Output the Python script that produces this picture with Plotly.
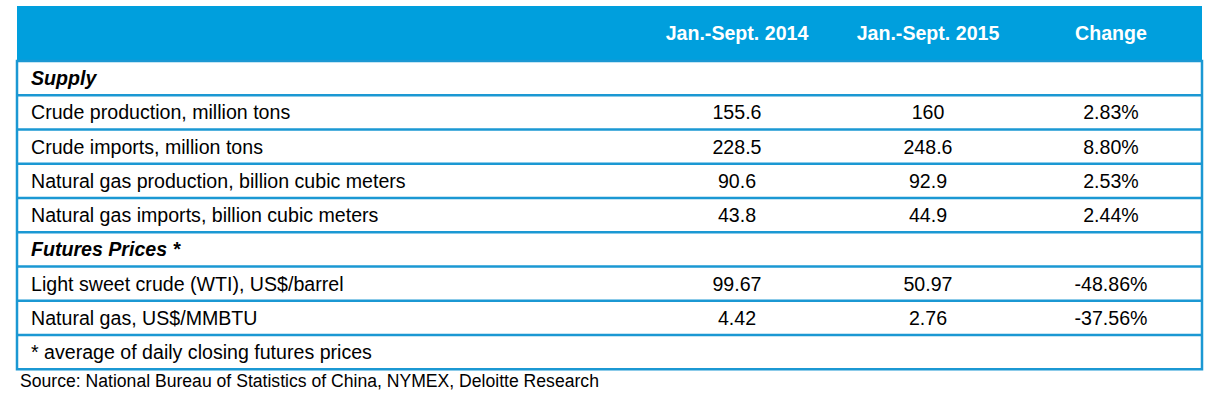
import plotly.graph_objects as go

# table content
columns = ["Jan.-Sept. 2014", "Jan.-Sept. 2015", "Change"]
row_labels = [
    "Supply",
    "Crude production, million tons",
    "Crude imports, million tons",
    "Natural gas production, billion cubic meters",
    "Natural gas imports, billion cubic meters",
    "Futures Prices *",
    "Light sweet crude (WTI), US$/barrel",
    "Natural gas, US$/MMBTU",
    "* average of daily closing futures prices",
]
row_kinds = ["section", "data", "data", "data", "data", "section", "data", "data", "note"]
values_2014 = ["", "155.6", "228.5", "90.6", "43.8", "", "99.67", "4.42", ""]
values_2015 = ["", "160", "248.6", "92.9", "44.9", "", "50.97", "2.76", ""]
changes = ["", "2.83%", "8.80%", "2.53%", "2.44%", "", "-48.86%", "-37.56%", ""]
source = "Source: National Bureau of Statistics of China, NYMEX, Deloitte Research"

W, H = 1229, 414
left, right = 17, 1202
top, header_bottom = 6, 61
row_h = 34.25
label_x = 31
col_x = [737, 928, 1111]
text_shift = 2  # scatter text sits a little high

header_blue = "#009fdd"
line_blue = "#1b98d3"
font = "Liberation Sans, Arial, sans-serif"
size = 19.6

row_y = [header_bottom + row_h * (i + 0.5) + text_shift for i in range(len(row_labels))]
bottom = header_bottom + row_h * len(row_labels)

labels = [f"<b><i>{t}</i></b>" if k == "section" else t for t, k in zip(row_labels, row_kinds)]

fig = go.Figure()
fig.add_trace(go.Scatter(
    x=[label_x] * len(labels), y=row_y, mode="text", text=labels,
    textposition="middle right", textfont={"family": font, "size": size, "color": "#000000"},
    hoverinfo="skip", showlegend=False,
))
for cx, vals in zip(col_x, [values_2014, values_2015, changes]):
    fig.add_trace(go.Scatter(
        x=[cx] * len(vals), y=row_y, mode="text", text=vals,
        textposition="middle center", textfont={"family": font, "size": size, "color": "#000000"},
        hoverinfo="skip", showlegend=False,
    ))
fig.add_trace(go.Scatter(
    x=col_x, y=[(top + header_bottom) / 2 + text_shift] * 3, mode="text",
    text=[f"<b>{c}</b>" for c in columns],
    textposition="middle center", textfont={"family": font, "size": size, "color": "#ffffff"},
    hoverinfo="skip", showlegend=False,
))

shapes = [dict(type="rect", x0=left, x1=right, y0=top, y1=header_bottom,
               fillcolor=header_blue, line={"width": 0}, layer="below")]
for i in range(1, len(row_labels)):
    y = header_bottom + row_h * i
    shapes.append(dict(type="line", x0=left, x1=right, y0=y, y1=y, line={"color": line_blue, "width": 2.5}))
shapes.append(dict(type="rect", x0=left, x1=right, y0=header_bottom, y1=bottom,
                   line={"color": line_blue, "width": 2.5}))

fig.update_layout(
    width=W, height=H, margin={"l": 0, "r": 0, "t": 0, "b": 0},
    paper_bgcolor="#ffffff", plot_bgcolor="#ffffff",
    xaxis={"range": [0, W], "visible": False, "fixedrange": True},
    yaxis={"range": [H, 0], "visible": False, "fixedrange": True},
    shapes=shapes,
    annotations=[dict(x=18, y=bottom + 12, xref="x", yref="y", text=source, showarrow=False,
                      xanchor="left", yanchor="middle", font={"family": font, "size": 17.6, "color": "#000000"})],
)

fig.write_html("out.html", config={"displayModeBar": False},
               post_script="document.body.style.margin='0';")
